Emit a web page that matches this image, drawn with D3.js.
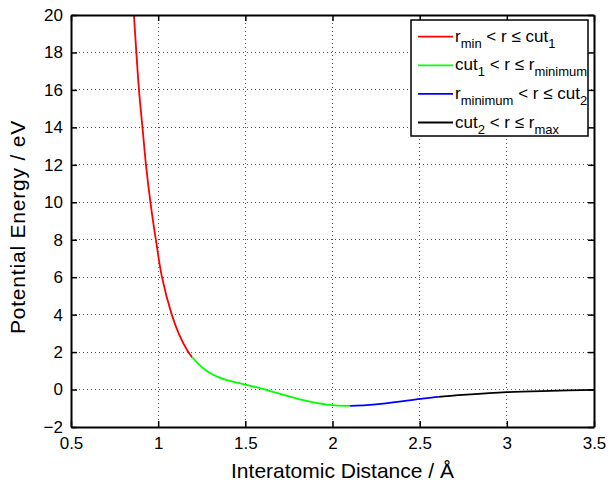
<!DOCTYPE html>
<html>
<head>
<meta charset="utf-8">
<script src="https://cdn.jsdelivr.net/npm/d3@7"></script>
<style>
body{margin:0;background:#fff;}
svg{font-family:"Liberation Sans",Arial,sans-serif;}
</style>
</head>
<body>
<svg id="chart" width="609" height="483"></svg>
<script>
// curve pieces (r in Angstrom, E in eV)
var seg1_r = [0.845,0.861,0.890,0.911,0.930,0.957,0.990,1.022,1.078,1.120,1.170,1.196];
var seg1_e = [22.4,20.0,16.0,13.9,12.0,9.9,7.8,6.0,4.0,2.95,2.05,1.72];
var seg2_r = [1.196,1.235,1.269,1.305,1.345,1.395,1.450,1.530,1.600,1.680,1.833,1.967,2.101];
var seg2_e = [1.72,1.33,1.06,0.84,0.66,0.50,0.37,0.20,0.03,-0.18,-0.57,-0.80,-0.87];
var seg3_r = [2.101,2.292,2.502,2.607];
var seg3_e = [-0.87,-0.75,-0.50,-0.39];
var seg4_r = [2.607,2.770,3.000,3.248,3.500];
var seg4_e = [-0.39,-0.27,-0.14,-0.07,-0.02];
var seg_colors = ["#ff0000","#00ff00","#0000ff","#000000"];

var x_ticks = [0.5,1,1.5,2,2.5,3,3.5];
var y_ticks = [-2,0,2,4,6,8,10,12,14,16,18,20];

var X0 = 71, X1 = 594, Y0 = 15, Y1 = 427;

var svg = d3.select('#chart');
var xs = d3.scaleLinear().domain([0.5,3.5]).range([X0,X1]);
var ys = d3.scaleLinear().domain([-2,20]).range([Y1,Y0]);

// dotted grid
var grid = svg.append('g').attr('class','grid');
grid.selectAll('line.gx').data(x_ticks.slice(1,-1)).enter().append('line')
    .attr('x1',function(d){return xs(d);}).attr('x2',function(d){return xs(d);})
    .attr('y1',Y0).attr('y2',Y1);
grid.selectAll('line.gy').data(y_ticks.slice(1,-1)).enter().append('line')
    .attr('y1',function(d){return ys(d);}).attr('y2',function(d){return ys(d);})
    .attr('x1',X0).attr('x2',X1);
grid.selectAll('line').attr('stroke','#555').attr('stroke-width',1)
    .attr('stroke-dasharray','1,3').attr('shape-rendering','crispEdges');

// one smooth curve through all the points, coloured piece by piece with clips
var segs = [[seg1_r,seg1_e],[seg2_r,seg2_e],[seg3_r,seg3_e],[seg4_r,seg4_e]];
var all_pts = [];
segs.forEach(function(s,i){
    d3.zip(s[0],s[1]).forEach(function(p,j){
        if(i>0 && j==0) return; // shared end point
        all_pts.push(p);
    });
});
var line = d3.line()
    .x(function(d){return xs(d[0]);})
    .y(function(d){return ys(d[1]);})
    .curve(d3.curveCatmullRom.alpha(0.5));
var curve_d = line(all_pts);
segs.forEach(function(s,i){
    var xa = i==0 ? X0 : xs(s[0][0]);
    var xb = i==segs.length-1 ? X1 : xs(s[0][s[0].length-1]);
    svg.append('clipPath').attr('id','clip'+i).append('rect')
        .attr('x',xa).attr('y',Y0).attr('width',xb-xa).attr('height',Y1-Y0);
    svg.append('path')
        .attr('clip-path','url(#clip'+i+')')
        .attr('d',curve_d)
        .attr('fill','none').attr('stroke',seg_colors[i]).attr('stroke-width',1.8);
});

// axes, ticks pointing inward like matlab
var tick = 6;
var fmt = function(d){return String(d).replace('-','\u2212');};
var ax_b = svg.append('g').attr('transform','translate(0,'+Y1+')')
    .call(d3.axisBottom(xs).tickValues(x_ticks).tickSizeInner(-tick).tickSizeOuter(0).tickPadding(10).tickFormat(fmt));
var ax_t = svg.append('g').attr('transform','translate(0,'+Y0+')')
    .call(d3.axisTop(xs).tickValues(x_ticks).tickSizeInner(-tick).tickSizeOuter(0).tickFormat(''));
var ax_l = svg.append('g').attr('transform','translate('+X0+',0)')
    .call(d3.axisLeft(ys).tickValues(y_ticks).tickSizeInner(-tick).tickSizeOuter(0).tickPadding(8).tickFormat(fmt));
var ax_r = svg.append('g').attr('transform','translate('+X1+',0)')
    .call(d3.axisRight(ys).tickValues(y_ticks).tickSizeInner(-tick).tickSizeOuter(0).tickFormat(''));
[ax_b,ax_t,ax_l,ax_r].forEach(function(a){
    a.select('.domain').attr('stroke','#000').attr('stroke-width',2);
    a.selectAll('.tick line').attr('stroke','#000').attr('stroke-width',1.5);
    a.selectAll('text').attr('font-size',17).attr('fill','#000')
        .attr('font-family','"Liberation Sans",Arial,sans-serif');
});

// axis titles
svg.append('text').attr('x',(X0+X1)/2+10).attr('y',478)
    .attr('text-anchor','middle').attr('font-size',21)
    .text('Interatomic Distance / \u00c5');
svg.append('text').attr('transform','translate(25,227) rotate(-90)')
    .attr('text-anchor','middle').attr('font-size',21).attr('letter-spacing',0.8)
    .text('Potential Energy / eV');

// legend
var leg = svg.append('g').attr('transform','translate(411,20)');
leg.append('rect').attr('width',177).attr('height',116)
    .attr('fill','#fff').attr('stroke','#000').attr('stroke-width',1.5);
var leg_labels = [
    [['r',0],['min',1],[' < r \u2264 cut',0],['1',1]],
    [['cut',0],['1',1],[' < r \u2264 r',0],['minimum',1]],
    [['r',0],['minimum',1],[' < r \u2264 cut',0],['2',1]],
    [['cut',0],['2',1],[' < r \u2264 r',0],['max',1]]
];
leg_labels.forEach(function(parts,i){
    var cy = 16.7 + i*28.6;
    leg.append('line').attr('x1',7).attr('x2',42).attr('y1',cy).attr('y2',cy)
        .attr('stroke',seg_colors[i]).attr('stroke-width',1.8);
    var t = leg.append('text').attr('x',44).attr('y',cy+5).attr('font-size',17);
    var low = 0;
    parts.forEach(function(p){
        var ts = t.append('tspan').text(p[0]);
        if(p[1] && !low){ ts.attr('dy',6).attr('font-size',13); low = 1; }
        else if(p[1]){ ts.attr('font-size',13); }
        else if(low){ ts.attr('dy',-6); low = 0; }
    });
});
</script>
</body>
</html>
